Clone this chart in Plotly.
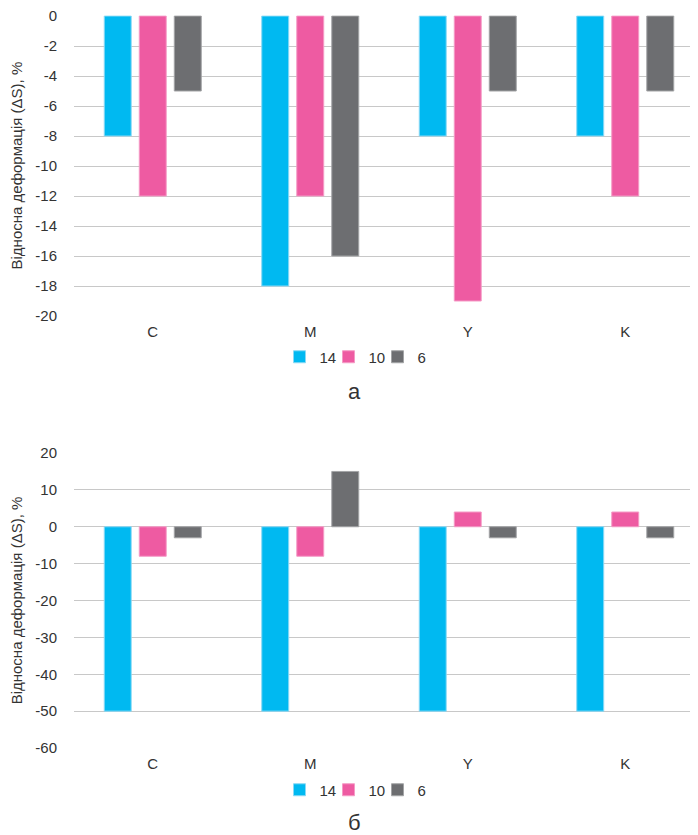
import plotly.graph_objects as go

categories = ["C", "M", "Y", "K"]
series_names = ["14", "10", "6"]

top_14 = [-8, -18, -8, -8]
top_10 = [-12, -12, -19, -12]
top_6 = [-5, -16, -5, -5]

bot_14 = [-50, -50, -50, -50]
bot_10 = [-8, -8, 4, 4]
bot_6 = [-3, 15, -3, -3]

top_ticks = list(range(-20, 1, 2))
bot_ticks = list(range(-60, 21, 10))

colors = ["#00B9F1", "#EE5BA2", "#6D6E71"]
edge = ["#8AD9F5", "#F59BC6", "#A3A4A6"]

# page body has an 8px default margin; figure is sized to fill the rest
OFF = 8
W, H = 698 - OFF, 835 - OFF
FONT = "Liberation Sans, Arial, sans-serif"
TXT = "#333333"


def px_x(x):
    return (x - OFF) / W


def px_y(y):
    return 1 - (y - OFF) / H


fig = go.Figure()
for i, (name, vals) in enumerate(zip(series_names, [top_14, top_10, top_6])):
    fig.add_trace(go.Bar(x=categories, y=vals, name=name, xaxis="x", yaxis="y",
                         marker=dict(color=colors[i], line=dict(color=edge[i], width=1)),
                         legend="legend"))
for i, (name, vals) in enumerate(zip(series_names, [bot_14, bot_10, bot_6])):
    fig.add_trace(go.Bar(x=categories, y=vals, name=name, xaxis="x2", yaxis="y2",
                         marker=dict(color=colors[i], line=dict(color=edge[i], width=1)),
                         legend="legend2"))

xr = [-0.5, 3.5 - 6 / 157.5]
ytitle = "Відносна деформація (ΔS), %"
common_x = dict(showgrid=False, showline=False, zeroline=False, ticks="", automargin=False,
                tickfont=dict(family=FONT, size=15, color=TXT), range=xr,
                ticklabelstandoff=5)
common_y = dict(showgrid=True, gridcolor="#C8C8C8", gridwidth=1.3, zeroline=False,
                showline=False, ticks="", automargin=False, ticklabeloverflow="allow",
                tickfont=dict(family=FONT, size=15, color=TXT),
                ticklabelstandoff=16,
                title=dict(text=ytitle, font=dict(family=FONT, size=15, color=TXT), standoff=10))

legend_common = dict(orientation="h", xanchor="center", yanchor="middle",
                     font=dict(family=FONT, size=15, color=TXT), itemwidth=30,
                     entrywidth=4, entrywidthmode="pixels",
                     bgcolor="rgba(0,0,0,0)")

top_pad = 0.05  # tiny headroom so the 0 tick/gridline is kept
fig.update_layout(
    width=W, height=H,
    margin=dict(l=0, r=0, t=0, b=0),
    paper_bgcolor="white", plot_bgcolor="white",
    barmode="group", bargap=0.333, bargroupgap=0.23,
    showlegend=True,
    xaxis=dict(domain=[px_x(74), 1], anchor="y", **common_x),
    yaxis=dict(domain=[px_y(316), px_y(16 - top_pad * 15)], anchor="x", range=[-20, top_pad],
               tickvals=top_ticks, ticktext=[str(v) for v in top_ticks], **common_y),
    xaxis2=dict(domain=[px_x(74), 1], anchor="y2", **common_x),
    yaxis2=dict(domain=[px_y(748), px_y(453)], anchor="x2", range=[-60, 20],
                tickvals=bot_ticks, ticktext=[str(v) for v in bot_ticks], **common_y),
    legend=dict(x=px_x(353), y=px_y(357), **legend_common),
    legend2=dict(x=px_x(353), y=px_y(790), **legend_common),
    annotations=[
        dict(text="а", x=px_x(355), y=px_y(392), xref="paper", yref="paper",
             showarrow=False, xanchor="center", yanchor="middle",
             font=dict(family=FONT, size=22, color=TXT)),
        dict(text="б", x=px_x(355), y=px_y(822), xref="paper", yref="paper",
             showarrow=False, xanchor="center", yanchor="middle",
             font=dict(family=FONT, size=22, color=TXT)),
    ],
)

fig.write_html("out.html")
